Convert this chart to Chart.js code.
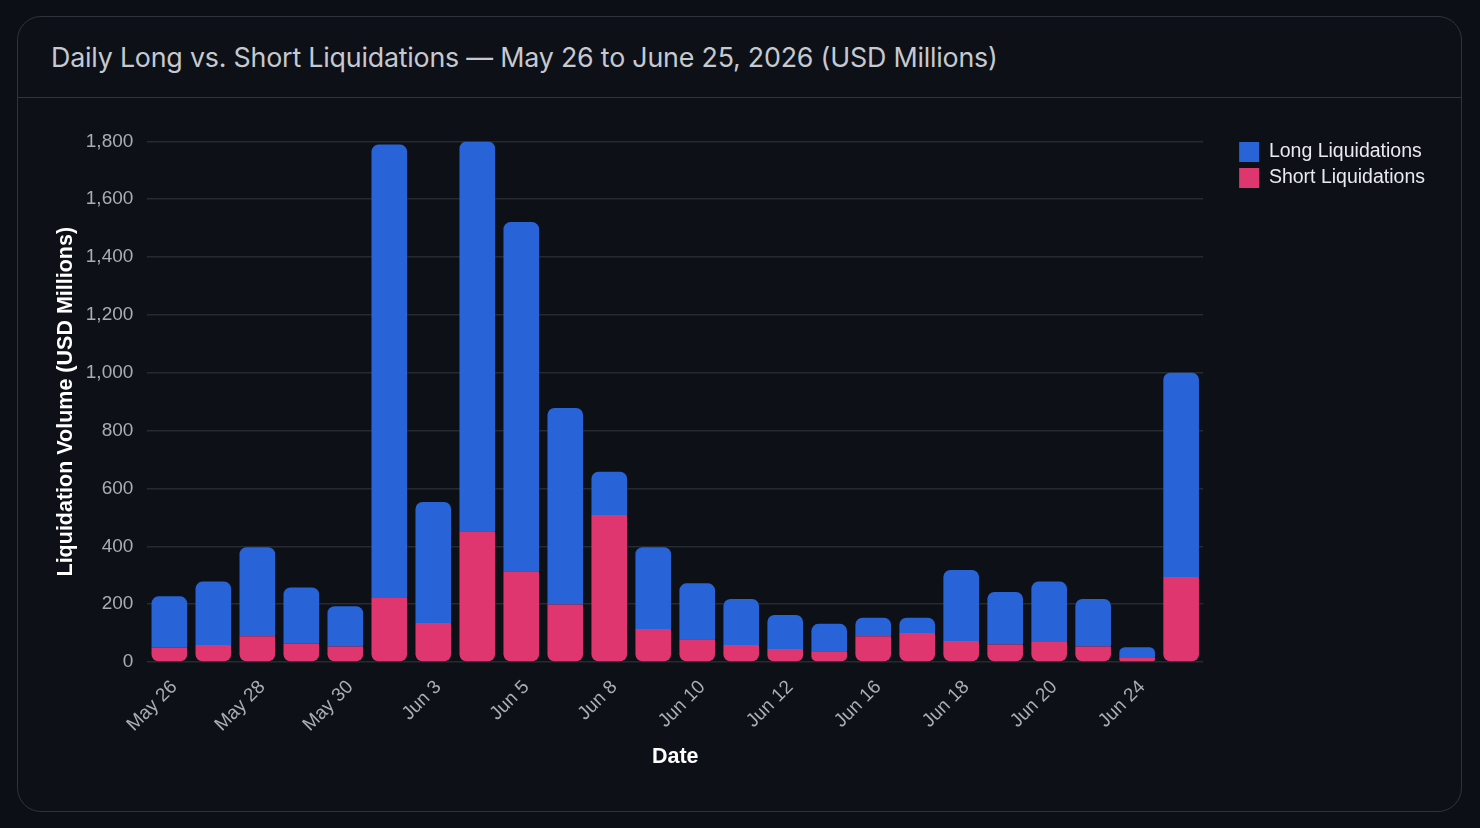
<!DOCTYPE html>
<html>
<head>
<meta charset="utf-8">
<script src="https://cdn.jsdelivr.net/npm/chart.js@4.4.1/dist/chart.umd.min.js"></script>
<style>
  html, body { margin: 0; padding: 0; background: #0c0f15; width: 1480px; height: 828px; overflow: hidden; }
  .card { position: absolute; left: 17px; top: 16px; width: 1443px; height: 794px; border: 1.5px solid #2f333b; border-radius: 24px; background: #0d1017; }
  .header { position: absolute; left: 0; top: 0; right: 0; height: 80px; border-bottom: 1.5px solid #30343c; }
  .title { position: absolute; left: 33px; top: 24px; font-family: Inter, "Noto Sans", sans-serif; font-size: 26.8px; color: #c6c9cf; white-space: nowrap; letter-spacing: -0.2px; }
  .wrap { position: absolute; left: 49px; top: 116px; width: 1386px; height: 658px; }
</style>
</head>
<body>
<div class="card">
  <div class="header"><div class="title">Daily Long vs. Short Liquidations — May 26 to June 25, 2026 (USD Millions)</div></div>
</div>
<div class="wrap"><canvas id="c"></canvas></div>
<script>
const dates = ["May 26","May 27","May 28","May 29","May 30","Jun 2","Jun 3","Jun 4","Jun 5","Jun 6","Jun 8","Jun 9","Jun 10","Jun 11","Jun 12","Jun 15","Jun 16","Jun 17","Jun 18","Jun 19","Jun 20","Jun 23","Jun 24","Jun 25"];
const longLiquidations = [178, 219, 308, 194, 139, 1568, 418, 1348, 1207, 679, 150, 283, 193, 159, 118, 95, 64, 53, 245, 181, 209, 164, 37, 706];
const shortLiquidations = [49, 59, 89, 64, 54, 221, 135, 452, 314, 199, 508, 114, 79, 59, 45, 37, 89, 100, 73, 61, 69, 54, 14, 294];
const yTicks = [0, 200, 400, 600, 800, 1000, 1200, 1400, 1600, 1800];

const FONT = "'Liberation Sans', Arial, sans-serif";
const tickFont = { family: FONT, size: 19 };
const LEGEND_GAP = 30, LEGEND_DROP = 20;

const legendOffset = {
  id: 'legendOffset',
  beforeLayout(chart) {
    const lg = chart.legend;
    if (lg && !lg._gapPatched) {
      const fit = lg.fit;
      lg.fit = function() { fit.call(this); this.width += LEGEND_GAP; };
      lg._gapPatched = true;
    }
  },
  afterLayout(chart) {
    const lg = chart.legend;
    if (lg) { lg.left += LEGEND_GAP; lg.top += LEGEND_DROP; lg.bottom += LEGEND_DROP; }
  }
};

new Chart(document.getElementById('c'), {
  type: 'bar',
  data: {
    labels: dates,
    datasets: [
      { label: 'Short Liquidations', data: shortLiquidations, backgroundColor: '#e03670', borderSkipped: false,
        borderRadius: { topLeft: 0, topRight: 0, bottomLeft: 7, bottomRight: 7 }, barPercentage: 0.9, categoryPercentage: 0.9 },
      { label: 'Long Liquidations', data: longLiquidations, backgroundColor: '#2863d8', borderSkipped: false,
        borderRadius: { topLeft: 7, topRight: 7, bottomLeft: 0, bottomRight: 0 }, barPercentage: 0.9, categoryPercentage: 0.9 }
    ]
  },
  plugins: [legendOffset],
  options: {
    responsive: true,
    maintainAspectRatio: false,
    animation: false,
    layout: { padding: 0 },
    plugins: {
      legend: {
        position: 'right', align: 'start', reverse: true,
        labels: { color: '#e8eaee', font: { family: FONT, size: 19.5 }, boxWidth: 20, boxHeight: 20, padding: 6 }
      },
      tooltip: { enabled: true }
    },
    scales: {
      x: {
        stacked: true,
        grid: { display: false },
        border: { display: false },
        ticks: {
          color: '#a9adb4', font: tickFont, minRotation: 45, maxRotation: 45, autoSkip: false, padding: 6, labelOffset: 5,
          callback: function(v, i) { return i % 2 === 0 ? this.getLabelForValue(v) : ''; }
        },
        title: { display: true, text: 'Date', color: '#ffffff', font: { family: FONT, size: 21.5, weight: 'bold' }, padding: { top: 2, bottom: 4 } }
      },
      y: {
        stacked: true,
        min: 0, max: 1800,
        afterBuildTicks: (axis) => { axis.ticks = yTicks.map(v => ({ value: v })); },
        afterFit: (scale) => { scale.width -= 11; },
        grid: { color: '#262a31', drawTicks: false, lineWidth: 1.5 },
        border: { display: false },
        ticks: { color: '#a9adb4', font: tickFont, padding: 14, callback: v => v.toLocaleString('en-US') },
        title: { display: true, text: 'Liquidation Volume (USD Millions)', color: '#ffffff', font: { family: FONT, size: 21.5, weight: 'bold' } }
      }
    }
  }
});
</script>
</body>
</html>
